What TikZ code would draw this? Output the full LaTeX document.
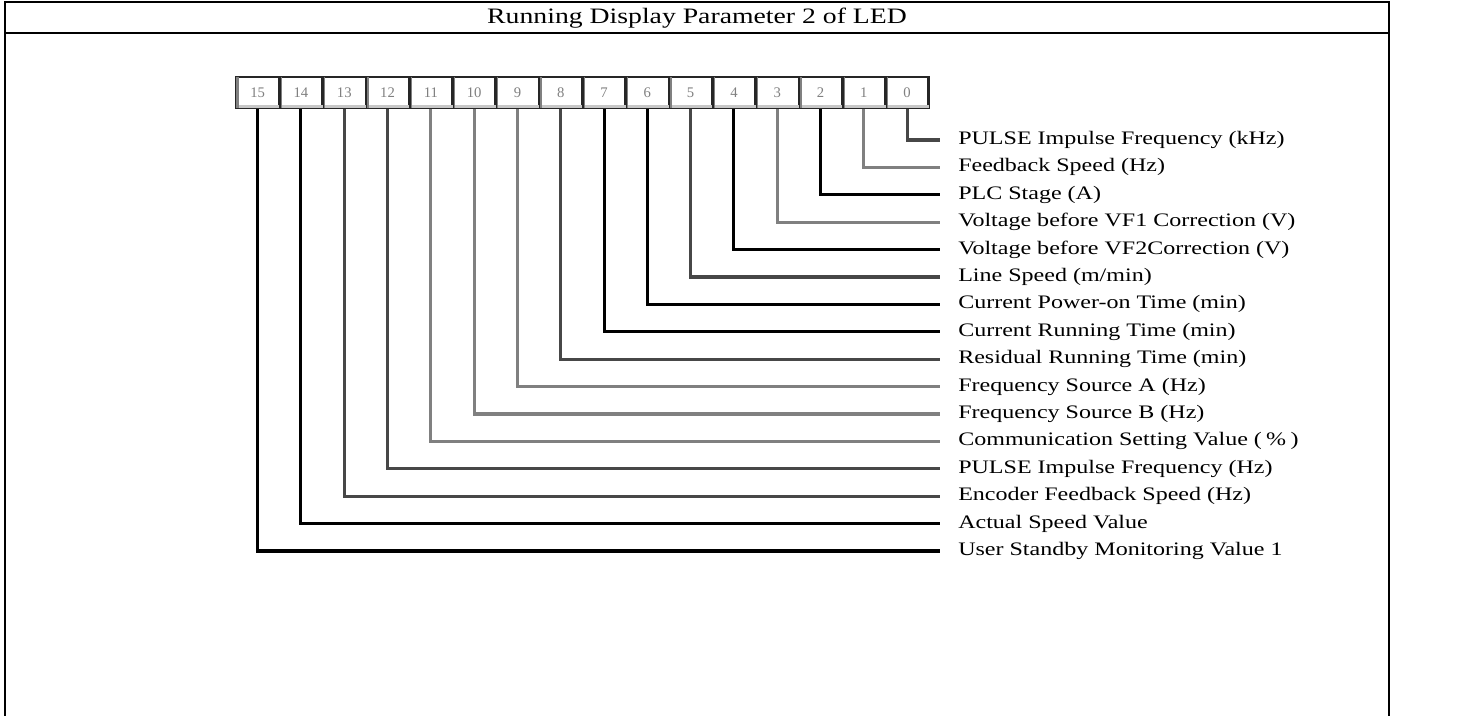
\documentclass[tikz,border=0pt]{standalone}
\usepackage{graphicx}
\usepackage{fontspec}
\setmainfont{Liberation Serif}
\newcommand{\wtxt}[1]{\scalebox{1.26}[1]{#1}}
\tikzset{
  frame/.style={line width=1.9pt, black},
  bitbox/.style={draw=black!85, line width=2pt, fill=white, minimum width=32.5pt, minimum height=23pt, inner sep=0pt, text=black!50, font=\fontsize{11pt}{12pt}\selectfont},
  shade/.style={fill=black!22},
  edge/.style={fill=black!50},
  conn/.style={line width=2.3pt},
  lab/.style={anchor=west, inner sep=0pt, font=\fontsize{14.3pt}{16pt}\selectfont},
  ttl/.style={inner sep=0pt, font=\fontsize{16.5pt}{18pt}\selectfont}
}
\colorlet{cK}{black}
\colorlet{cG}{black!50}
\colorlet{cD}{black!72}
\begin{document}
\begin{tikzpicture}[x=0.75pt, y=-0.75pt]
\useasboundingbox (0,0) rectangle (1481,716);
% outer frame and title bar
\draw[frame] (5,716) -- (5,2) -- (1389,2) -- (1389,716);
\draw[frame] (5,33) -- (1389,33);
\node[ttl] (title) at (697,18) {\wtxt{Running Display Parameter 2 of LED}};
% bits, connectors, labels
\foreach \b/\lab/\col in {
  0/{PULSE Impulse Frequency (kHz)}/cD,
  1/{Feedback Speed (Hz)}/cG,
  2/{PLC Stage (A)}/cK,
  3/{Voltage before VF1 Correction (V)}/cG,
  4/{Voltage before VF2Correction (V)}/cK,
  5/{Line Speed (m/min)}/cD,
  6/{Current Power-on Time (min)}/cK,
  7/{Current Running Time (min)}/cK,
  8/{Residual Running Time (min)}/cD,
  9/{Frequency Source A (Hz)}/cG,
  10/{Frequency Source B (Hz)}/cG,
  11/{Communication Setting Value (\hspace{0.18em}\%\hspace{0.18em})}/cG,
  12/{PULSE Impulse Frequency (Hz)}/cD,
  13/{Encoder Feedback Speed (Hz)}/cD,
  14/{Actual Speed Value}/cK,
  15/{User Standby Monitoring Value 1}/cK}{
  \pgfmathsetmacro{\bx}{257.65+(15-\b)*43.3}
  \pgfmathsetmacro{\ry}{140+\b*27.4}
  \node[bitbox] (bit\b) at (\bx,92.5) {};
  \fill[shade] ([xshift=1pt,yshift=1pt]bit\b.south west) rectangle ([xshift=-1pt,yshift=3.2pt]bit\b.south east);
  \fill[edge] ([xshift=1pt,yshift=1pt]bit\b.south west) rectangle ([xshift=3pt,yshift=-1pt]bit\b.north west);
  \node[inner sep=0pt, text=black!50, font=\fontsize{11pt}{12pt}\selectfont] (dig\b) at (bit\b) {\b};
  \coordinate (end\b) at (940,\ry);
  \node[lab] (lab\b) at (958,\ry) {\wtxt{\lab}};
  \draw[conn, draw=\col] (bit\b.south) |- (end\b);
}
\end{tikzpicture}
\end{document}
